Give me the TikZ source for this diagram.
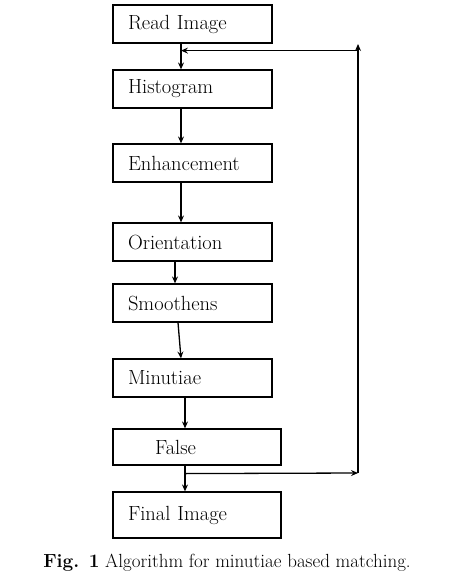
\documentclass[tikz,border=0pt]{standalone}
\usetikzlibrary{positioning}
\usetikzlibrary{calc}
\usetikzlibrary{arrows.meta}
\tikzset{
  flowbox/.style={draw, line width=1.2pt, minimum height=38pt, text width=129pt,
    align=left, inner xsep=15pt, inner ysep=0pt, font=\fontsize{20.5}{23}\selectfont},
  widebox/.style={flowbox, text width=138pt},
  flowarrow/.style={line width=1.3pt, -{Stealth[length=7pt,width=6pt,inset=2.5pt]}}
}

\begin{document}
\begin{tikzpicture}[x=1pt, y=-1pt]
    \useasboundingbox (0,0) rectangle (451,583);

    % processing steps
    \node[flowbox] (read) at (192.5, 24) {Read Image};
    \node[flowbox] (hist) at (192.5, 89) {Histogram};
    \node[flowbox] (enh) at (192.5, 163) {Enhancement};
    \node[flowbox] (orient) at (192.5, 242) {Orientation};
    \node[flowbox] (smooth) at (192.5, 303) {Smoothens};
    \node[flowbox] (minut) at (192.5, 378) {Minutiae};
    \node[widebox, minimum height=36pt] (false) at (197, 447) {\hspace*{27pt}False};
    \node[widebox, minimum height=46pt] (final) at (197, 515) {Final Image\\[4pt]};

    \draw[flowarrow] ([xshift=-11.5pt]read.south) -- ([xshift=-11.5pt]hist.north);
    \draw[flowarrow] ([xshift=-11.5pt]hist.south) -- ([xshift=-11.5pt]enh.north);
    \draw[flowarrow] ([xshift=-11.5pt]enh.south) -- ([xshift=-11.5pt]orient.north);
    \draw[flowarrow] ([xshift=-17.5pt]orient.south) -- ([xshift=-17.5pt]smooth.north);
    \draw[flowarrow] ([xshift=-14.5pt]smooth.south) -- ([xshift=-11.5pt]minut.north);
    \draw[flowarrow] ([xshift=-7.5pt]minut.south) -- ([xshift=-12pt]false.north);
    \draw[flowarrow] ([xshift=-12pt]false.south) -- ([xshift=-12pt]final.north);

    % loop back to the histogram step
    \coordinate (split) at ($(false.south)+(-12pt,-8pt)$);
    \coordinate (loopbot) at (358, 473);
    \coordinate (looptop) at (358, 44);
    \coordinate (loopin) at ($(read.south)+(-11.5pt,-7pt)$);
    \draw[flowarrow] (split) -- (loopbot);
    \draw[flowarrow] (loopbot) -- (looptop);
    \draw[flowarrow] (loopin -| loopbot) -- (loopin);

    \node[font=\fontsize{19}{22}\selectfont, anchor=base] (caption) at (227, 567)
        {\textbf{Fig. 1} Algorithm for minutiae based matching.};
\end{tikzpicture}
\end{document}
